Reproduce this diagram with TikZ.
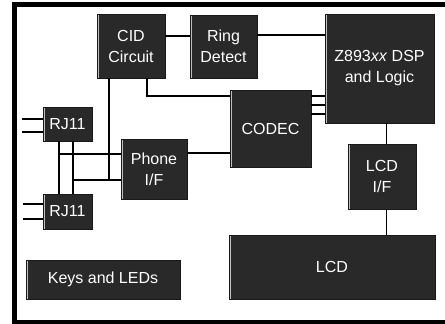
\documentclass[tikz,border=0pt]{standalone}
\usepackage{fontspec}
\setmainfont{Liberation Sans}
\begin{document}
\begin{tikzpicture}[x=1pt,y=-1pt,
  blk/.style={draw=black!90, line width=0.8pt, fill=black!84, text=white,
    font=\fontsize{16}{21}\selectfont, align=center, inner sep=0pt,
    path picture={\draw[white!75!black, line width=1.2pt]
      ([xshift=1.2pt]path picture bounding box.north west) --
      ([xshift=1.2pt]path picture bounding box.south west);}},
  wire/.style={line width=1.1pt, draw=black}]
\useasboundingbox (0,0) rectangle (445,324);
\clip (0,0) rectangle (445,324);
\fill[white] (0,0) rectangle (445,324);
% frame
\draw[line width=4.8pt] (470,4.5) -- (14.5,4.5) -- (14.5,322.5) -- (470,322.5);
% blocks
\node[blk, minimum width=68pt, minimum height=64pt] (cid) at (131,46) {CID\\Circuit};
\node[blk, minimum width=67pt, minimum height=63pt] (ring) at (223.5,46.5) {Ring\\Detect};
\node[blk, minimum width=109pt, minimum height=109pt] (dsp) at (379.5,68.5) {Z893\textit{xx} DSP\\and Logic};
\node[blk, minimum width=81pt, minimum height=77pt] (codec) at (270.5,128.5) {CODEC};
\node[blk, minimum width=49pt, minimum height=34pt] (rja) at (67.5,124) {RJ11};
\node[blk, minimum width=49pt, minimum height=35pt] (rjb) at (67.5,211.5) {RJ11};
\node[blk, minimum width=66pt, minimum height=60pt] (phone) at (154,169) {Phone\\I/F};
\node[blk, minimum width=68pt, minimum height=65pt] (lcdif) at (382,176.5) {LCD\\I/F};
\node[blk, minimum width=206pt, minimum height=64pt] (lcd) at (332,267) {LCD};
\node[blk, minimum width=154pt, minimum height=39pt] (keys) at (103,279.5) {Keys and LEDs};
% helper coordinates
\coordinate (y36) at (0,36);
\coordinate (y35) at (0,35);
\coordinate (c1) at (147,96);
\coordinate (y153) at (0,153);
\coordinate (d1) at (0,96);
\coordinate (d2) at (0,105);
\coordinate (d3) at (0,114);
\coordinate (xv) at (386.5,0);
\coordinate (s1) at (22,119);
\coordinate (s2) at (22,132);
\coordinate (s3) at (23,204);
\coordinate (s4) at (23,219);
\coordinate (b1) at (59,0);
\coordinate (b2) at (73,0);
\coordinate (h1) at (59,154);
\coordinate (h2) at (73,180);
\coordinate (v1) at (109,180);
% connectors
\draw[wire] (cid.east |- y36) -- (ring.west |- y36);
\draw[wire] (ring.east |- y35) -- (dsp.west |- y35);
\draw[wire] (cid.south -| c1) -- (c1) -- (codec.west |- c1);
\draw[wire] (phone.east |- y153) -- (codec.west |- y153);
\draw[wire] (codec.east |- d1) -- (dsp.west |- d1);
\draw[wire] (codec.east |- d2) -- (dsp.west |- d2);
\draw[wire] (codec.east |- d3) -- (dsp.west |- d3);
\draw[wire] (dsp.south -| xv) -- (lcdif.north -| xv);
\draw[wire] (lcdif.south -| xv) -- (lcd.north -| xv);
\draw[wire] (s1) -- (rja.west |- s1);
\draw[wire] (s2) -- (rja.west |- s2);
\draw[wire] (s3) -- (rjb.west |- s3);
\draw[wire] (s4) -- (rjb.west |- s4);
\draw[wire] (rja.south -| b1) -- (rjb.north -| b1);
\draw[wire] (rja.south -| b2) -- (rjb.north -| b2);
\draw[wire] (h1) -- (phone.west |- h1);
\draw[wire] (h2) -- (phone.west |- h2);
\draw[wire] (cid.south -| v1) -- (v1);
\end{tikzpicture}
\end{document}
